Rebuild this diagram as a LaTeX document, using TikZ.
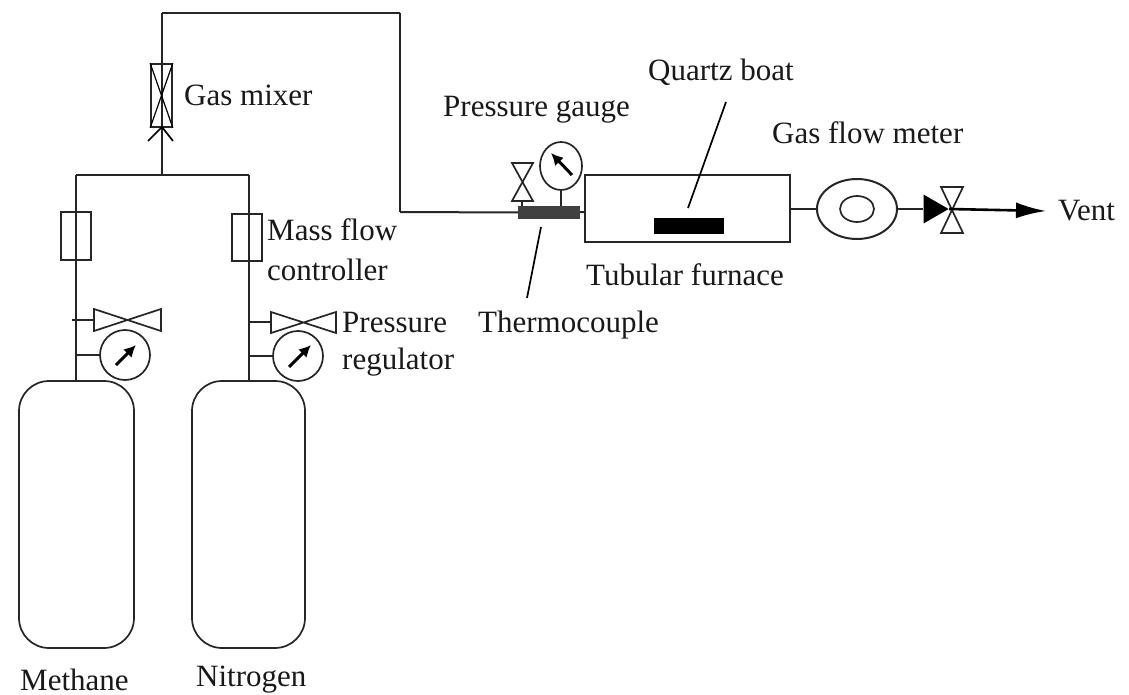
\documentclass[tikz,border=0pt]{standalone}
\usepackage{fontspec}
\setmainfont{Liberation Serif}
\usetikzlibrary{arrows.meta,shapes.geometric}

\tikzset{
  pipe/.style={line width=2pt,draw=black!85},
  part/.style={line width=1.7pt,draw=black!85,fill=white},
  needle/.style={line width=3pt,-{Latex[length=12pt,width=12pt]}},
  gauge/.style={ellipse,part,inner sep=0pt,minimum width=50pt,minimum height=50pt},
  label/.style={inner sep=0pt,font=\fontsize{31}{36}\selectfont,text=black!90},
  leftlabel/.style={label,anchor=west}
}

\begin{document}
\begin{tikzpicture}[x=1pt,y=-1pt]
  \useasboundingbox (0,0) rectangle (1129,695);

  % gas lines
  \coordinate (top1) at (162,13);
  \coordinate (top2) at (400,13);
  \coordinate (top3) at (400,212);
  \coordinate (join) at (162,175);
  \coordinate (headl) at (76,175);
  \coordinate (headr) at (249,175);
  \coordinate (stubl1) at (72,320);
  \coordinate (stubr1) at (249,322);
  \coordinate (stubl2) at (76,355);
  \coordinate (stubr2) at (249,356);
  \coordinate (baseval) at (522,201);
  \coordinate (chl) at (148,141);
  \coordinate (chm) at (162,127);
  \coordinate (chr) at (173,141);

  % cylinders
  \node[part,rounded corners=30pt,minimum width=115pt,minimum height=267pt] (meth) at (76.5,514.5) {};
  \node[part,rounded corners=30pt,minimum width=113pt,minimum height=267pt] (nitr) at (248.5,514.5) {};
  \coordinate (methtop) at (76,381);
  \coordinate (nitrtop) at (249,381);

  \foreach \from/\to in {headl/headr, join/top1, top1/top2, top2/top3, headl/methtop, headr/nitrtop}
    \draw [pipe] (\from) -- (\to);

  % controllers and mixer
  \node[draw=black!85,line width=1.7pt,minimum width=30pt,minimum height=48pt,inner sep=0pt] (mfcl) at (76,236) {};
  \node[draw=black!85,line width=1.7pt,minimum width=30pt,minimum height=47pt,inner sep=0pt] (mfcr) at (247,237.5) {};
  \node[draw=black!85,line width=1.7pt,minimum width=21pt,minimum height=63pt,inner sep=0pt] (mixer) at (161.5,95.5) {};
  \draw [line width=1.2pt] (mixer.north west) -- (mixer.south east) (mixer.north east) -- (mixer.south west);
  \draw [line width=1.7pt] (chl) -- (chm) -- (chr);

  % regulators
  \coordinate (vall) at (94,320);
  \coordinate (valr) at (271,322);
  \node[gauge] (gaugel) at (125,355) {};
  \node[gauge] (gauger) at (298,356) {};
  \draw [part] (94,309) -- (161,331) -- (161,309) -- (94,331) -- cycle;
  \draw [part] (271,312) -- (336,333) -- (336,312) -- (271,333) -- cycle;
  \draw [needle] (gaugel.center) ++(-9,10) -- ++(20,-20);
  \draw [needle] (gauger.center) ++(-9,11) -- ++(22,-22);

  \foreach \from/\to in {stubl1/vall, stubr1/valr, stubl2/gaugel, stubr2/gauger}
    \draw [pipe] (\from) -- (\to);

  % furnace side
  \node[draw=black!85,line width=2pt,minimum width=205pt,minimum height=67pt,inner sep=0pt] (furn) at (687.5,208.5) {};
  \node[fill=black,minimum width=70pt,minimum height=16pt,inner sep=0pt] (boat) at (689,226) {};
  \node[fill=black!75,minimum width=62pt,minimum height=13pt,inner sep=0pt] (tcbar) at (549,212.5) {};
  \node[gauge,minimum width=42pt,minimum height=48pt] (gaugep) at (561,166) {};
  \node[ellipse,draw=black!85,line width=2pt,inner sep=0pt,minimum width=80pt,minimum height=60pt] (fmeter) at (857,209) {};
  \node[ellipse,draw=black!85,line width=1.7pt,inner sep=0pt,minimum width=34pt,minimum height=26pt] at (fmeter.center) (fmeterin) {};
  \draw [needle] (572,175) -- (551,153);
  \draw [part] (512,163) -- (533,163) -- (512,201) -- (533,201) -- cycle;
  \draw [part] (941,187) -- (963,187) -- (941,233) -- (963,233) -- cycle;
  \coordinate (tritip) at (949,209);
  \coordinate (vent) at (1046,211);
  \coordinate (tcin) at (tcbar.west);
  \coordinate (barval) at (522,206);
  \coordinate (bargauge) at (561,206);
  \coordinate (tcout) at (585,212);
  \coordinate (furnr) at (790,209);
  \node[isosceles triangle,fill=black,inner sep=0pt,minimum width=24pt,minimum height=25pt,isosceles triangle apex angle=60,anchor=apex] (tri) at (tritip) {};

  \draw [pipe] (top3) -- (tcin);
  \foreach \from/\to in {tcbar/tcout, baseval/barval, gaugep/bargauge, furnr/fmeter, fmeter/tri}
    \draw [pipe] (\from) -- (\to);
  \draw [line width=2.6pt,-{Latex[length=30pt,width=16pt]}] (tritip) -- (vent);

  % leader lines
  \coordinate (boatleadend) at (688,208);
  \coordinate (boatlead) at (726,102);
  \coordinate (tclead) at (541,227);
  \coordinate (tcleadend) at (527,298);
  \foreach \from/\to in {boatlead/boatleadend, tclead/tcleadend}
    \draw [line width=1.7pt] (\from) -- (\to);

  % labels
  \node[leftlabel] (lmixer) at (184,95) {Gas mixer};
  \node[leftlabel] (lmfc) at (267,230) {Mass flow};
  \node[leftlabel] (lmfcb) at (267,270) {controller};
  \node[leftlabel] (lreg) at (342,323) {Pressure};
  \node[leftlabel] (lregb) at (342,362) {regulator};
  \node[leftlabel] (lgauge) at (443,110) {Pressure gauge};
  \node[leftlabel] (lboat) at (648,72) {Quartz boat};
  \node[leftlabel] (lmeter) at (772,133) {Gas flow meter};
  \node[leftlabel] (lvent) at (1058,211) {Vent};
  \node[leftlabel] (lfurn) at (586,275) {Tubular furnace};
  \node[leftlabel] (ltc) at (478,325) {Thermocouple};
  \node[leftlabel] (lmeth) at (20,680) {Methane};
  \node[leftlabel] (lnitr) at (196,680) {Nitrogen};
\end{tikzpicture}
\end{document}
